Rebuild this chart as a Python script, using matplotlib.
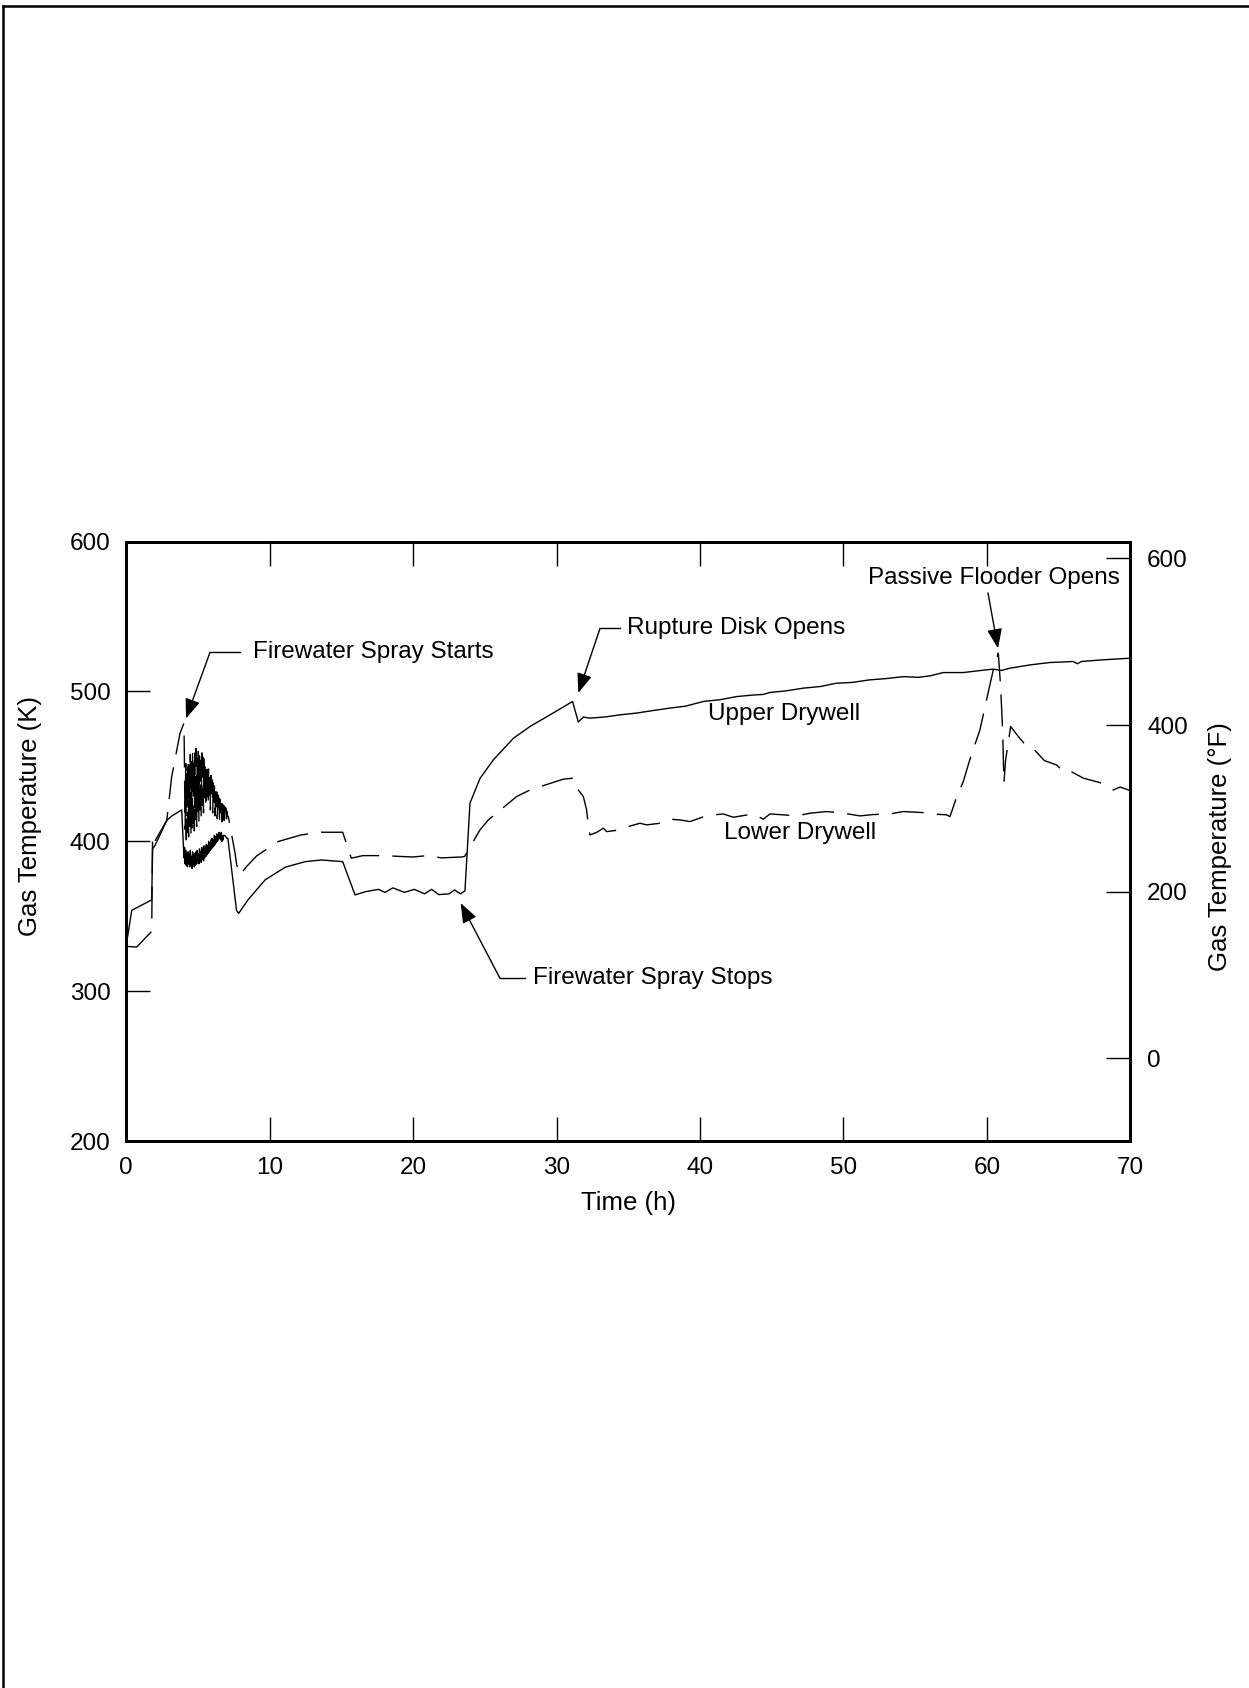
import matplotlib
matplotlib.use("Agg")
import matplotlib.pyplot as plt
from matplotlib.lines import Line2D

plt.rcParams['font.family'] = ['Liberation Sans', 'DejaVu Sans']
plt.rcParams['lines.scale_dashes'] = False

# Upper drywell gas temperature (K) vs time (h)
upper_t = [0.0, 0.4, 1.0, 1.79, 1.85, 2.0, 2.4, 2.84, 3.2, 3.88,
           4.00, 4.04, 4.08, 4.12, 4.16, 4.20, 4.24, 4.28, 4.32, 4.36, 4.40,
           4.44, 4.48, 4.52, 4.56, 4.60, 4.64, 4.68, 4.72, 4.76, 4.80, 4.84,
           4.88, 4.92, 4.96, 5.00, 5.04, 5.08, 5.12, 5.16, 5.20, 5.24, 5.28,
           5.32, 5.36, 5.40, 5.44, 5.48, 5.52, 5.56, 5.60, 5.64, 5.68, 5.72,
           5.76, 5.80, 5.84, 5.88, 5.92, 5.96, 6.00, 6.04, 6.08, 6.12, 6.16,
           6.20, 6.24, 6.28, 6.32, 6.36, 6.40, 6.44, 6.48, 6.52, 6.56, 6.60,
           6.64, 6.68, 6.72, 6.76, 6.80, 6.88, 6.96, 7.04, 7.10,
           7.70, 7.85, 8.5, 9.7, 11.1,
           12.5, 13.6, 15.1, 15.96, 16.7, 17.6, 18.05, 18.6, 19.4, 20.1, 20.8,
           21.3, 21.8, 22.5, 22.9, 23.3, 23.62, 23.97, 24.67, 25.6, 27.0,
           28.15, 29.55, 31.12, 31.52, 31.87, 32.33, 33.4, 34.43, 35.6, 36.75,
           37.91, 39.0, 40.23, 41.4, 42.56, 43.7, 44.4, 44.88, 46.0, 47.2,
           48.4, 49.5, 50.6, 51.8, 53.0, 54.2, 55.2, 56.03, 56.96, 58.35,
           59.4, 60.44, 61.0, 61.6, 63.0, 64.39, 65.2, 66.0, 66.3, 66.6, 68.1,
           70.0]
upper_k = [330, 354, 357, 361, 395, 397, 405, 414, 417, 421,
           398, 389, 396, 385, 394, 384, 392, 383, 393, 385, 391,
           383, 394, 384, 390, 382, 393, 385, 391, 383, 392, 384,
           393, 385, 394, 386, 392, 385, 395, 387, 393, 386, 396,
           388, 394, 387, 397, 389, 396, 390, 398, 391, 397, 392,
           400, 393, 399, 394, 401, 395, 402, 396, 401, 397, 404,
           398, 403, 399, 405, 400, 404, 401, 406, 402, 405, 401,
           406, 400, 404, 401, 404, 404, 403, 402, 402,
           354, 352, 361, 374.4, 382.8,
           386.5, 387.6, 386.5, 364.3, 366.5, 368, 366, 369, 366, 368, 365,
           368, 364.5, 365, 367.6, 365, 367, 425.5, 442, 454.4, 468.8,
           476.6, 484.4, 493.3, 479.6, 482.9, 482.2, 483.0, 484.4, 485.6, 487.3,
           488.9, 490.2, 493.3, 494.5, 496.6, 497.6, 498.0, 499.3, 500.4, 502.2,
           503.3, 505.5, 506.0, 507.7, 508.6, 509.9, 509.4, 510.4, 512.6, 512.6,
           513.8, 514.9, 514.0, 515.5, 517.7, 519.3, 519.6, 520.0, 518.5, 520.0,
           521.1, 522.2]

# Lower drywell gas temperature (K) vs time (h)
lower_t = [0.0, 0.74, 1.79, 1.85, 2.0, 2.84, 3.18, 3.76, 4.04,
           4.08, 4.12, 4.16, 4.20, 4.24, 4.28, 4.32, 4.36, 4.40, 4.44, 4.48,
           4.52, 4.56, 4.60, 4.64, 4.68, 4.72, 4.76, 4.80, 4.84, 4.88, 4.92,
           4.96, 5.00, 5.04, 5.08, 5.12, 5.16, 5.20, 5.24, 5.28, 5.32, 5.36,
           5.40, 5.44, 5.48, 5.52, 5.56, 5.60, 5.64, 5.68, 5.72, 5.76, 5.80,
           5.84, 5.88, 5.92, 5.96, 6.00, 6.04, 6.08, 6.12, 6.16, 6.20, 6.24,
           6.28, 6.32, 6.36, 6.40, 6.44, 6.48, 6.52, 6.56, 6.60, 6.64, 6.68,
           6.72, 6.76, 6.80, 6.84, 6.88, 6.92, 6.96, 7.00, 7.04, 7.08,
           7.13, 7.6, 7.71,
           7.94, 8.4, 9.1, 10.6, 12.2, 13.6, 15.1, 15.7, 16.5, 18.0, 19.0,
           20.0, 21.0, 22.0, 23.4, 23.6, 24.67, 25.25, 27.22, 28.15, 30.47,
           31.2, 31.52, 31.87, 32.1, 32.2, 32.33, 32.8, 33.26, 33.5, 34.43,
           35.0, 35.82, 36.28, 37.21, 37.91, 38.61, 39.3, 40.47, 41.62, 42.32,
           43.71, 44.41, 44.88, 45.8, 46.74, 47.67, 48.83, 49.99, 51.15, 52.08,
           53.24, 54.17, 55.56, 56.49, 57.19, 57.42, 57.9, 58.35, 58.8, 59.51,
           59.97, 60.44, 60.79, 60.95, 61.1, 61.18, 61.3, 61.65, 62.18, 62.77,
           63.2, 64.0, 64.85, 65.31, 65.78, 66.71, 67.87, 68.8, 69.27, 70.0]
lower_k = [330, 329.5, 340, 404, 400, 414, 443, 472, 479,
           446, 408, 452, 401, 449, 406, 455, 403, 451, 410, 458,
           404, 453, 409, 461, 412, 456, 407, 459, 414, 462, 410,
           455, 418, 460, 413, 457, 421, 454, 416, 459, 424, 456,
           419, 458, 427, 453, 422, 451, 430, 448, 424, 449, 431,
           446, 421, 444, 429, 441, 419, 439, 426, 437, 417, 435,
           423, 433, 415, 431, 421, 429, 414, 428, 419, 427, 413,
           425, 418, 424, 414, 423, 417, 422, 415, 420, 417,
           416.5, 392, 384.3,
           377.6, 383.2, 390.3, 399.9, 404.3, 406.1, 406.1, 388.8, 390.5, 390.5, 390,
           389.6, 390.5, 389, 389.6, 390, 407.7, 414.3, 429.9, 434.3, 441.5,
           442.2, 434.3, 429.9, 421, 412, 404.3, 406, 408.8, 406.5, 407.7,
           409.9, 412.1, 411, 412.1, 414.8, 414.3, 413.2, 417.2, 418.3, 416.1,
           418.3, 414.8, 418.3, 417.7, 417, 418.8, 419.9, 418.8, 417, 417.9,
           418.3, 419.9, 419.2, 418.1, 417.7, 416.5, 429.9, 439.9, 454.4, 474.4,
           494.4, 514.4, 525.5, 503.3, 472.2, 438.8, 454.4, 476.6, 470, 463.3,
           462.2, 453.9, 451, 446.6, 447, 442.2, 439.2, 434.3, 436.2, 433.9]

x_ticks = [0, 10, 20, 30, 40, 50, 60, 70]
k_ticks = [200, 300, 400, 500, 600]
f_ticks = [0, 200, 400, 600]


def k_to_f(k):
    return (k - 273.15) * 1.8 + 32.0


FS = 17.5
fig = plt.figure(figsize=(12.49, 16.88), dpi=100)

# page frame (top and left edges)
fig.add_artist(Line2D([0.0024, 1.0], [0.9964, 0.9964], color='k', lw=1.8,
                      transform=fig.transFigure))
fig.add_artist(Line2D([0.0024, 0.0024], [0.0, 0.9964], color='k', lw=1.8,
                      transform=fig.transFigure))

ax = fig.add_axes([0.1009, 0.3239, 0.8042, 0.3553])
ax.plot(upper_t, upper_k, color='k', lw=1.0)
ax.plot(lower_t, lower_k, color='k', lw=1.0, dashes=(23, 9.5))

ax.set_xlim(0, 70)
ax.set_ylim(200, 600)
ax.set_xticks(x_ticks)
ax.set_yticks(k_ticks)
ax.tick_params(axis='both', direction='in', length=17, width=1.0,
               labelsize=FS, pad=11)
ax.tick_params(axis='x', top=True, bottom=True)
ax.tick_params(axis='y', left=True, right=False)
for s in ax.spines.values():
    s.set_linewidth(2.0)

ax2 = ax.twinx()
ax2.set_ylim(k_to_f(200), k_to_f(600))
ax2.set_yticks(f_ticks)
ax2.tick_params(axis='y', direction='in', length=17, width=1.0,
                labelsize=FS, pad=12, left=False, right=True)
for s in ax2.spines.values():
    s.set_linewidth(2.0)

ax.text(-0.0956, 0.543, 'Gas Temperature (K)', transform=ax.transAxes,
        rotation=90, ha='center', va='center', fontsize=18.5)
ax.text(1.089, 0.491, 'Gas Temperature (\u00b0F)', transform=ax.transAxes,
        rotation=90, ha='center', va='center', fontsize=18.5)
ax.text(0.5006, -0.1024, 'Time (h)', transform=ax.transAxes,
        ha='center', va='center', fontsize=18.5)

arrow = dict(arrowstyle='-|>,head_length=0.6,head_width=0.23', color='k',
             lw=1.0, shrinkA=0, shrinkB=0, mutation_scale=20)


def callout(label, text_xy, leader=None, ha='left'):
    # label with optional horizontal leader; returns where the arrow starts
    start = None
    if leader is not None:
        (x0, x1), y = leader
        ax.plot([x0, x1], [y, y], color='k', lw=1.0, clip_on=False)
        start = (x0, y)
    ax.text(text_xy[0], text_xy[1], label, ha=ha, va='center', fontsize=FS)
    return start


s = callout('Firewater Spray Starts', (8.87, 526), ((5.85, 7.94), 526))
ax.annotate('', xy=(4.18, 482), xytext=s, arrowprops=arrow)

s = callout('Rupture Disk Opens', (34.89, 542), ((33.03, 34.43), 542))
ax.annotate('', xy=(31.52, 499), xytext=s, arrowprops=arrow)

s = callout('Firewater Spray Stops', (28.38, 308.7), ((26.06, 27.8), 308.7))
ax.annotate('', xy=(23.32, 358.8), xytext=s, arrowprops=arrow)

callout('Passive Flooder Opens', (69.27, 575.8), ha='right')
ax.annotate('', xy=(60.77, 528.7), xytext=(60.07, 565.7), arrowprops=arrow)

ax.text(45.85, 485.1, 'Upper Drywell', ha='center', va='center', fontsize=FS)
ax.text(46.97, 405.4, 'Lower Drywell', ha='center', va='center', fontsize=FS)

fig.savefig('out.png', dpi=100)
